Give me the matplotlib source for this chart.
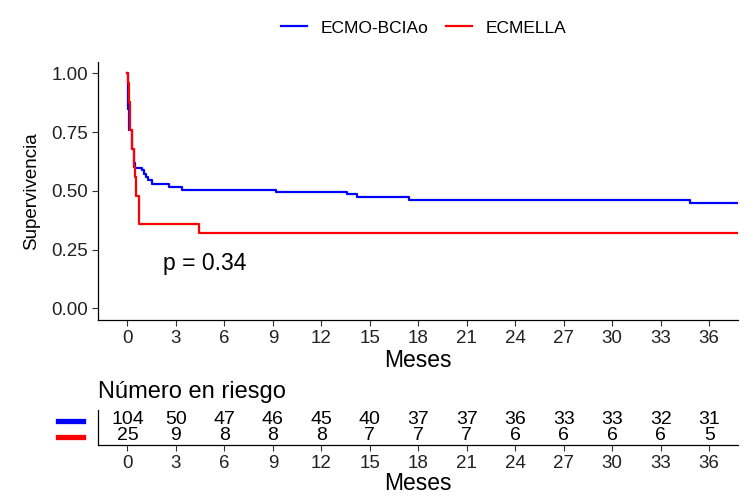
import matplotlib
matplotlib.use('Agg')
import matplotlib.pyplot as plt
from matplotlib.lines import Line2D

plt.rcParams['font.family'] = ['Liberation Sans', 'DejaVu Sans']

# Kaplan-Meier curves (months, survival)
blue_t = [0, 0.01, 0.06, 0.12, 0.28, 0.42, 0.48, 0.9, 1.0, 1.15, 1.3, 1.5, 2.6, 3.4,
          9.2, 13.6, 14.2, 17.4, 34.8, 38]
blue_s = [1.0, 0.952, 0.85, 0.76, 0.68, 0.62, 0.596, 0.587, 0.573, 0.56, 0.548, 0.529,
          0.516, 0.505, 0.494, 0.485, 0.475, 0.462, 0.449, 0.449]
red_t = [0, 0.03, 0.08, 0.15, 0.3, 0.4, 0.45, 0.55, 0.72, 4.4, 38]
red_s = [1.0, 0.96, 0.88, 0.76, 0.68, 0.60, 0.56, 0.48, 0.36, 0.32, 0.32]

groups = ['ECMO-BCIAo', 'ECMELLA']
colors = ['blue', 'red']

# risk table
risk_times = [0, 3, 6, 9, 12, 15, 18, 21, 24, 27, 30, 33, 36]
blue_risk = [104, 50, 47, 46, 45, 40, 37, 37, 36, 33, 33, 32, 31]
red_risk = [25, 9, 8, 8, 8, 7, 7, 7, 6, 6, 6, 6, 5]

pval = 'p = 0.34'

W, H = 750, 500
fig = plt.figure(figsize=(7.5, 5), dpi=100)

def fbox(x0, y0, x1, y1):
    # pixel box (top-left origin) -> figure fraction
    return [x0 / W, 1 - y1 / H, (x1 - x0) / W, (y1 - y0) / H]

ax = fig.add_axes(fbox(98.3, 61.7, 738.3, 320))
ax.step(blue_t, blue_s, where='post', color=colors[0], lw=1.6)
ax.step(red_t, red_s, where='post', color=colors[1], lw=1.6)
ax.set_xlim(-1.8, 37.8)
ax.set_ylim(-0.05, 1.05)
ax.set_xticks(risk_times)
ax.set_yticks([0, 0.25, 0.5, 0.75, 1.0])
ax.set_yticklabels(['0.00', '0.25', '0.50', '0.75', '1.00'])
ax.tick_params(labelsize=13.5, length=4, width=0.8, color='#333333', labelcolor='#222222')
for s in ['top', 'right']:
    ax.spines[s].set_visible(False)
for s in ['left', 'bottom']:
    ax.spines[s].set_linewidth(0.9)
ax.set_xlabel('Meses', fontsize=16.5, labelpad=1)
ax.set_ylabel('Supervivencia', fontsize=13.5, labelpad=8)
ax.text(2.2, 0.19, pval, fontsize=16.5, ha='left', va='center')

handles = [Line2D([], [], color=c, lw=1.6) for c in colors]
fig.legend(handles, groups, ncol=2, frameon=False, loc='center',
           bbox_to_anchor=(0.565, 0.944), fontsize=12.5, handlelength=1.5,
           columnspacing=1.0, handletextpad=0.8)

# risk table
axt = fig.add_axes(fbox(98.3, 410, 738.3, 445))
axt.set_xlim(-1.8, 37.8)
axt.set_ylim(0.4, 2.6)
for t, b, r in zip(risk_times, blue_risk, red_risk):
    axt.text(t, 2, str(b), ha='center', va='center', fontsize=14)
    axt.text(t, 1, str(r), ha='center', va='center', fontsize=14)
axt.set_xticks(risk_times)
axt.set_yticks([])
axt.tick_params(labelsize=13.5, length=4, width=0.8, color='#333333', labelcolor='#222222')
for s in ['top', 'right']:
    axt.spines[s].set_visible(False)
for s in ['left', 'bottom']:
    axt.spines[s].set_linewidth(0.9)
axt.set_xlabel('Meses', fontsize=16.5, labelpad=0)

fig.text(98 / W, 1 - 392 / H, 'Número en riesgo', fontsize=17, ha='left', va='center')
for c, yy in zip(colors, [421, 437]):
    fig.add_artist(Line2D([58 / W, 83 / W], [1 - yy / H] * 2, color=c, lw=3.8))

fig.savefig('out.png', dpi=100)
